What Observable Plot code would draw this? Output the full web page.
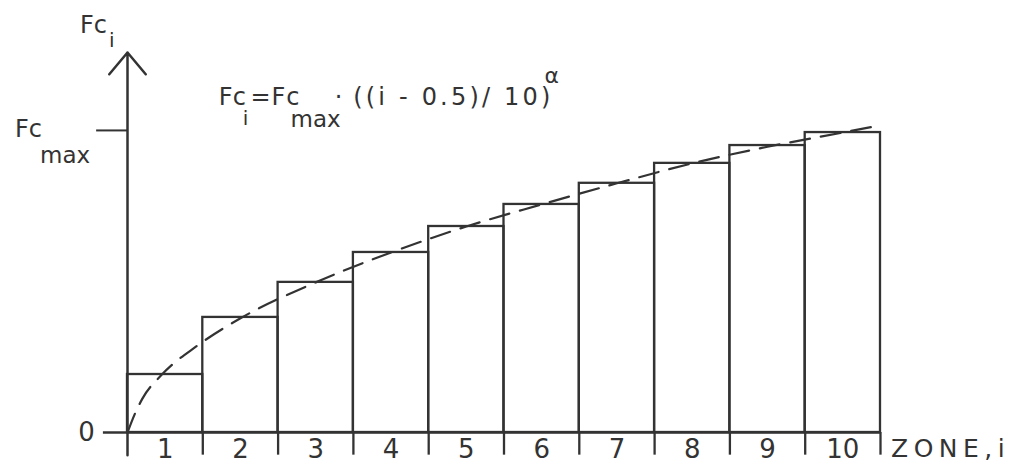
<!DOCTYPE html>
<html><head><meta charset="utf-8">
<script src="https://cdn.jsdelivr.net/npm/d3@7"></script>
<script src="https://cdn.jsdelivr.net/npm/@observablehq/plot@0.6"></script>
<style>body{margin:0;background:#fff} svg{display:block}</style>
</head><body><div id="chart"></div>
<script>
// Zones (x) and step heights as fraction of Fc_max
const zones = [1, 2, 3, 4, 5, 6, 7, 8, 9, 10];
const zoneValues = [0.192, 0.381, 0.497, 0.596, 0.682, 0.755, 0.825, 0.891, 0.950, 0.993];
// Dashed curve (x in zone units, y as fraction of Fc_max)
const curveX = [0, 0.1, 0.2, 0.45, 0.93, 1.5, 2.5, 3.5, 4.5, 5.5, 6.5, 7.5, 8.5, 9.5, 10];
const curveY = [0, 0.063, 0.113, 0.19, 0.288, 0.378, 0.497, 0.596, 0.682, 0.755, 0.825, 0.891, 0.946, 0.993, 1.017];
const edges = [0, 1, 2, 3, 4, 5, 6, 7, 8, 9, 10];
const fcMax = 1;
const yTop = 1.258;
const zeroLabel = "0";
const xLabel = "ZONE,i";

const ink = "#333";
const font = "DejaVu Sans";
const bars = zones.map((z, k) => ({x1: z - 1, x2: z, y: zoneValues[k], label: String(z), mid: z - 0.5}));
const curve = curveX.map((x, k) => ({x, y: curveY[k]}));

const plot = Plot.plot({
  width: 1020, height: 465,
  marginLeft: 127, marginRight: 140, marginTop: 52, marginBottom: 33,
  x: {domain: [0, 10], axis: null},
  y: {domain: [0, yTop], axis: null},
  style: {fontFamily: font, color: ink, background: "#fff"},
  marks: [
    Plot.rectY(bars, {x1: "x1", x2: "x2", y: "y", fill: "none", stroke: ink, strokeWidth: 2.3}),
    Plot.line(curve, {x: "x", y: "y", curve: "monotone-x", stroke: ink, strokeWidth: 2.2, strokeDasharray: "20,11"}),
    Plot.ruleY([0], {x1: -0.32, x2: 10, stroke: ink, strokeWidth: 2.5}),
    Plot.ruleY([fcMax], {x1: -0.41, x2: 0, stroke: ink, strokeWidth: 2}),
    Plot.ruleX(edges.slice(1), {y1: -0.075, y2: 0, stroke: ink, strokeWidth: 2.3}),
    Plot.arrow([0], {x1: 0, x2: 0, y1: -0.075, y2: yTop, stroke: ink, strokeWidth: 2.5, headLength: 17, headAngle: 80}),
    Plot.text(bars, {x: "mid", y: 0, text: "label", dy: 17, fontSize: 26, fill: ink}),
    Plot.text([zeroLabel], {x: 0, y: 0, text: d => d, dx: -41, fontSize: 26, fill: ink})
  ]
});
document.getElementById("chart").appendChild(plot);

// Labels with subscripts / superscripts, placed through the plot's scales
const sx = plot.scale("x"), sy = plot.scale("y");
const svg = d3.select(plot);
function label(x, y, parts, size) {
  const t = svg.append("text").attr("x", x).attr("y", y).attr("text-anchor", "start")
    .attr("font-family", font).attr("font-size", size).attr("fill", ink);
  for (const p of parts) {
    const s = t.append("tspan").text(p.t);
    if (p.dy) s.attr("dy", p.dy);
    if (p.dx) s.attr("dx", p.dx);
    if (p.size) s.attr("font-size", p.size);
    if (p.ls) s.attr("letter-spacing", p.ls);
  }
  return t;
}
// Y axis label Fc_i
label(sx.apply(0) - 47, sy.apply(yTop) - 19, [{t: "Fc"}, {t: "i", dy: 14, dx: 2, size: 20}], 24);
// Fc_max
label(sx.apply(0) - 112, sy.apply(fcMax) + 7, [{t: "Fc"}, {t: "max", dy: 26, dx: -2, size: 23}], 24);
// Formula
label(sx.apply(1.22), sy.apply(1.083), [
  {t: "Fc"}, {t: "i", dy: 20, dx: -3, size: 20}, {t: "=Fc", dy: -20, dx: 2, ls: 1},
  {t: "max", dy: 22, dx: -10, size: 23}, {t: "·", dy: -22, dx: -6}, {t: " ((i - 0.5)/ 10)", ls: 3.2},
  {t: "α", dy: -22, dx: -9, size: 22}
], 24);
// X axis label
label(sx.apply(10) + 11, sy.apply(0) + 25, [{t: xLabel, ls: 5.5}], 25);
</script></body></html>
